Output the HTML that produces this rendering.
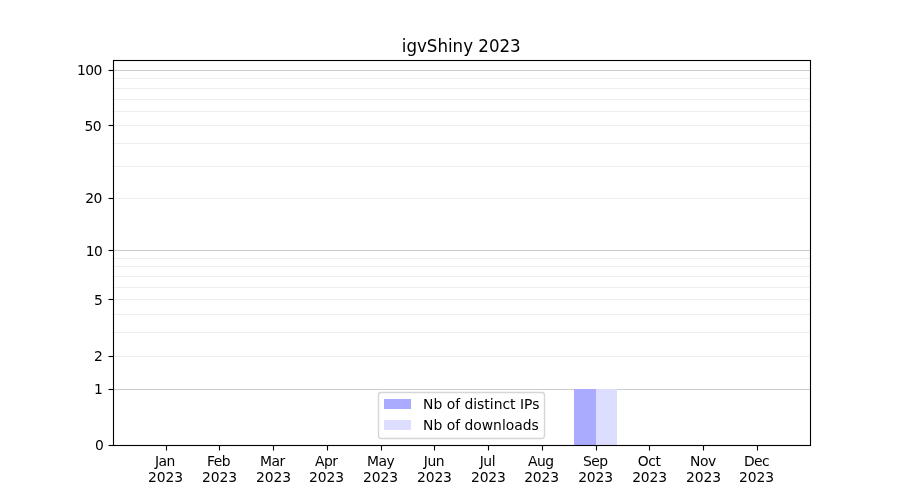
<!DOCTYPE html>
<html lang="en"><head><meta charset="utf-8"><title>igvShiny 2023</title>
<style>
html,body{margin:0;padding:0;background:#fff;}
body{width:900px;height:500px;overflow:hidden;}
svg{display:block;will-change:transform;}
text{font-family:"DejaVu Sans","Liberation Sans",sans-serif;fill:#000;}
.t{font-size:13.889px;}
.title{font-size:16.667px;}
.m{letter-spacing:-0.5px;}
.yr{letter-spacing:-0.1px;}
.lg{letter-spacing:0px;}
.yl{letter-spacing:-0.6px;}
.gM{stroke:#cccccc;stroke-width:1.111;}
.gm{stroke:#eeeeee;stroke-width:1.111;}
.k{stroke:#000;stroke-width:1.111;fill:none;}
</style></head><body>
<svg width="900" height="500" viewBox="0 0 900 500">
<rect x="0" y="0" width="900" height="500" fill="#ffffff"/>
<g>
<line class="gm" x1="112.5" x2="810" y1="78.5" y2="78.5"/>
<line class="gm" x1="112.5" x2="810" y1="88.5" y2="88.5"/>
<line class="gm" x1="112.5" x2="810" y1="99.5" y2="99.5"/>
<line class="gm" x1="112.5" x2="810" y1="111.5" y2="111.5"/>
<line class="gm" x1="112.5" x2="810" y1="125.5" y2="125.5"/>
<line class="gm" x1="112.5" x2="810" y1="143.5" y2="143.5"/>
<line class="gm" x1="112.5" x2="810" y1="166.5" y2="166.5"/>
<line class="gm" x1="112.5" x2="810" y1="198.5" y2="198.5"/>
<line class="gm" x1="112.5" x2="810" y1="258.5" y2="258.5"/>
<line class="gm" x1="112.5" x2="810" y1="266.5" y2="266.5"/>
<line class="gm" x1="112.5" x2="810" y1="276.5" y2="276.5"/>
<line class="gm" x1="112.5" x2="810" y1="287.5" y2="287.5"/>
<line class="gm" x1="112.5" x2="810" y1="299.5" y2="299.5"/>
<line class="gm" x1="112.5" x2="810" y1="314.5" y2="314.5"/>
<line class="gm" x1="112.5" x2="810" y1="332.5" y2="332.5"/>
<line class="gm" x1="112.5" x2="810" y1="356.5" y2="356.5"/>
<line class="gM" x1="112.5" x2="810" y1="70.5" y2="70.5"/>
<line class="gM" x1="112.5" x2="810" y1="250.5" y2="250.5"/>
<line class="gM" x1="112.5" x2="810" y1="389.5" y2="389.5"/>
</g>
<rect x="574" y="389" width="22" height="56" fill="#aaaaff"/>
<rect x="596" y="389" width="21" height="56" fill="#ddddff"/>
<g>
<line class="k" x1="166.5" x2="166.5" y1="445.5" y2="450.5"/>
<line class="k" x1="219.5" x2="219.5" y1="445.5" y2="450.5"/>
<line class="k" x1="273.5" x2="273.5" y1="445.5" y2="450.5"/>
<line class="k" x1="327.5" x2="327.5" y1="445.5" y2="450.5"/>
<line class="k" x1="381.5" x2="381.5" y1="445.5" y2="450.5"/>
<line class="k" x1="434.5" x2="434.5" y1="445.5" y2="450.5"/>
<line class="k" x1="488.5" x2="488.5" y1="445.5" y2="450.5"/>
<line class="k" x1="542.5" x2="542.5" y1="445.5" y2="450.5"/>
<line class="k" x1="596.5" x2="596.5" y1="445.5" y2="450.5"/>
<line class="k" x1="649.5" x2="649.5" y1="445.5" y2="450.5"/>
<line class="k" x1="703.5" x2="703.5" y1="445.5" y2="450.5"/>
<line class="k" x1="757.5" x2="757.5" y1="445.5" y2="450.5"/>
<line class="k" x1="108.5" x2="113.5" y1="70.5" y2="70.5"/>
<line class="k" x1="108.5" x2="113.5" y1="125.5" y2="125.5"/>
<line class="k" x1="108.5" x2="113.5" y1="198.5" y2="198.5"/>
<line class="k" x1="108.5" x2="113.5" y1="250.5" y2="250.5"/>
<line class="k" x1="108.5" x2="113.5" y1="299.5" y2="299.5"/>
<line class="k" x1="108.5" x2="113.5" y1="356.5" y2="356.5"/>
<line class="k" x1="108.5" x2="113.5" y1="389.5" y2="389.5"/>
<line class="k" x1="108.5" x2="113.5" y1="445.5" y2="445.5"/>
</g>
<rect class="k" x="113.5" y="60.5" width="697" height="385"/>
<g class="t" text-anchor="end">
<text class="yl" transform="translate(101.78,75) scale(1,1)">100</text>
<text class="yl" transform="translate(101.03,131) scale(1,1)">50</text>
<text class="yl" transform="translate(101.78,203) scale(1,1)">20</text>
<text class="yl" transform="translate(102.28,256) scale(1,1)">10</text>
<text class="yl" transform="translate(102.28,305) scale(1,1)">5</text>
<text class="yl" transform="translate(102.28,361) scale(1,1)">2</text>
<text class="yl" transform="translate(102.28,394) scale(1,1)">1</text>
<text class="yl" transform="translate(103.28,450) scale(1,1)">0</text>
</g>
<g class="t" text-anchor="middle">
<text class="m" transform="translate(164.95,466) scale(1,1)">Jan</text>
<text class="yr" transform="translate(165.45,482) scale(1,1)">2023</text>
<text class="m" transform="translate(218.44,466) scale(1,1)">Feb</text>
<text class="yr" transform="translate(219.44,482) scale(1,1)">2023</text>
<text class="m" transform="translate(272.42,466) scale(1,1)">Mar</text>
<text class="yr" transform="translate(273.42,482) scale(1,1)">2023</text>
<text class="m" transform="translate(326.16,466) scale(1,1)">Apr</text>
<text class="yr" transform="translate(326.41,482) scale(1,1)">2023</text>
<text class="m" transform="translate(380.65,466) scale(1,1)">May</text>
<text class="yr" transform="translate(380.4,482) scale(1,1)">2023</text>
<text class="m" transform="translate(433.88,466) scale(1,1)">Jun</text>
<text class="yr" transform="translate(434.38,482) scale(1,1)">2023</text>
<text class="m" transform="translate(487.37,466) scale(1,1)">Jul</text>
<text class="yr" transform="translate(488.37,482) scale(1,1)">2023</text>
<text class="m" transform="translate(540.85,466) scale(1,1)">Aug</text>
<text class="yr" transform="translate(541.6,482) scale(1,1)">2023</text>
<text class="m" transform="translate(595.34,466) scale(1,1)">Sep</text>
<text class="yr" transform="translate(595.59,482) scale(1,1)">2023</text>
<text class="m" transform="translate(649.08,466) scale(1,1)">Oct</text>
<text class="yr" transform="translate(649.58,482) scale(1,1)">2023</text>
<text class="m" transform="translate(702.81,466) scale(1,1)">Nov</text>
<text class="yr" transform="translate(703.56,482) scale(1,1)">2023</text>
<text class="m" transform="translate(756.55,466) scale(1,1)">Dec</text>
<text class="yr" transform="translate(756.55,482) scale(1,1)">2023</text>
</g>
<text class="title" text-anchor="middle" transform="translate(461.25,52) scale(1,1.07)" x="0" y="0">igvShiny 2023</text>
<rect x="378.5" y="392.5" width="166" height="46" rx="2.78" ry="2.78" fill="#ffffff" fill-opacity="0.8" stroke="#cccccc" stroke-opacity="0.8" stroke-width="1.389"/>
<rect x="384" y="399" width="27" height="10" fill="#aaaaff"/>
<rect x="384" y="420" width="27" height="10" fill="#ddddff"/>
<g class="t">
<text class="lg" transform="translate(423.07,409) scale(1,1)">Nb of distinct IPs</text>
<text class="lg" transform="translate(423.07,430) scale(1,1)">Nb of downloads</text>
</g>
</svg>
</body></html>
